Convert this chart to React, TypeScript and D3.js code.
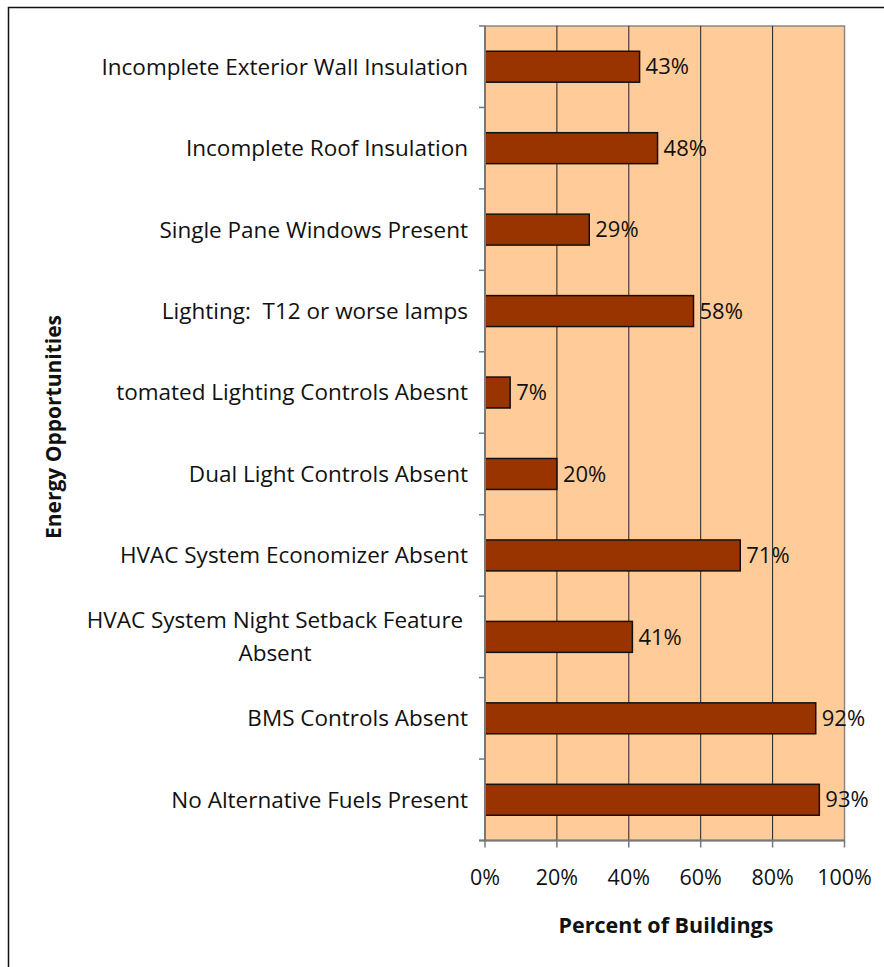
import React, { useEffect, useRef } from "react";
import * as d3 from "d3";

const categories = [
  "Incomplete Exterior Wall Insulation",
  "Incomplete Roof Insulation",
  "Single Pane Windows Present",
  "Lighting:  T12 or worse lamps",
  "tomated Lighting Controls Abesnt",
  "Dual Light Controls Absent",
  "HVAC System Economizer Absent",
  "HVAC System Night Setback Feature|Absent",
  "BMS Controls Absent",
  "No Alternative Fuels Present",
];
const values = [43, 48, 29, 58, 7, 20, 71, 41, 92, 93];
const xTicks = [0, 20, 40, 60, 80, 100];

const FONT = "'Open Sans', sans-serif";

export default function App() {
  const ref = useRef<SVGSVGElement>(null);

  useEffect(() => {
    const svg = d3.select(ref.current);
    svg.selectAll("*").remove();

    const width = 884;
    const height = 967;
    const left = 485, right = 844.5, top = 26, bottom = 840.5;

    svg.append("rect")
      .attr("x", 8.5).attr("y", 7.5)
      .attr("width", 1000).attr("height", 1000)
      .attr("fill", "white")
      .attr("stroke", "#111").attr("stroke-width", 1.5);

    const x = d3.scaleLinear().domain([0, 100]).range([left, right]);
    const y = d3.scaleBand().domain(categories).range([top, bottom]).paddingInner(0.62).paddingOuter(0.31);
    const band = (bottom - top) / categories.length;

    svg.append("rect")
      .attr("x", left).attr("y", top)
      .attr("width", right - left).attr("height", bottom - top)
      .attr("fill", "#FFCC99")
      .attr("stroke", "#888").attr("stroke-width", 1.5);

    svg.append("g").selectAll("line")
      .data(xTicks.slice(1, -1))
      .join("line")
      .attr("x1", d => x(d)).attr("x2", d => x(d))
      .attr("y1", top).attr("y2", bottom)
      .attr("stroke", "#222").attr("stroke-width", 1);

    svg.append("g").selectAll("rect")
      .data(values)
      .join("rect")
      .attr("x", x(0))
      .attr("y", (d, i) => y(categories[i])!)
      .attr("width", d => x(d) - x(0))
      .attr("height", y.bandwidth())
      .attr("fill", "#993300")
      .attr("stroke", "#111").attr("stroke-width", 1.5);

    svg.append("g").selectAll("text")
      .data(values)
      .join("text")
      .attr("x", d => x(d) + 6)
      .attr("y", (d, i) => y(categories[i])! + y.bandwidth() / 2)
      .attr("dy", "0.35em")
      .attr("font-family", FONT).attr("font-size", 22)
      .attr("fill", "#111")
      .text(d => `${d}%`);

    // y axis
    const yAxis = svg.append("g");
    yAxis.append("line")
      .attr("x1", left).attr("x2", left).attr("y1", top).attr("y2", bottom)
      .attr("stroke", "#777").attr("stroke-width", 2);
    yAxis.selectAll(".tick")
      .data(d3.range(categories.length + 1))
      .join("line")
      .attr("x1", left - 6).attr("x2", left)
      .attr("y1", i => top + i * band).attr("y2", i => top + i * band)
      .attr("stroke", "#777").attr("stroke-width", 1.5);

    categories.forEach((c) => {
      const lines = c.split("|");
      const cy = y(c)! + y.bandwidth() / 2;
      const t = svg.append("text")
        .attr("font-family", FONT).attr("font-size", 22.5)
        .attr("fill", "#111")
        .style("white-space", "pre")
        .attr("text-anchor", lines.length > 1 ? "middle" : "end");
      lines.forEach((l, j) => {
        t.append("tspan")
          .attr("x", lines.length > 1 ? 275 : 468)
          .attr("y", cy + (j - (lines.length - 1) / 2) * 33)
          .attr("dy", "0.35em")
          .text(l);
      });
    });

    // x axis
    const xAxis = svg.append("g");
    xAxis.append("line")
      .attr("x1", left - 6).attr("x2", right).attr("y1", bottom).attr("y2", bottom)
      .attr("stroke", "#777").attr("stroke-width", 2);
    xAxis.selectAll("line.t")
      .data(xTicks)
      .join("line")
      .attr("class", "t")
      .attr("x1", d => x(d)).attr("x2", d => x(d))
      .attr("y1", bottom).attr("y2", bottom + 7)
      .attr("stroke", "#777").attr("stroke-width", 1.5);
    xAxis.selectAll("text")
      .data(xTicks)
      .join("text")
      .attr("x", d => x(d))
      .attr("y", 885)
      .attr("text-anchor", "middle")
      .attr("font-family", FONT).attr("font-size", 21.5)
      .attr("fill", "#111")
      .text(d => `${d}%`);

    svg.append("text")
      .attr("x", 666).attr("y", 933)
      .attr("text-anchor", "middle")
      .attr("font-family", FONT).attr("font-size", 21.5).attr("font-weight", "bold")
      .attr("fill", "#111")
      .text("Percent of Buildings");

    svg.append("text")
      .attr("transform", `translate(61, 427) rotate(-90)`)
      .attr("text-anchor", "middle")
      .attr("font-family", FONT).attr("font-size", 21).attr("font-weight", "bold")
      .attr("fill", "#111")
      .text("Energy Opportunities");

    svg.attr("width", width).attr("height", height);
  }, []);

  return (
    <svg ref={ref} style={{ position: "absolute", left: 0, top: 0 }} width={884} height={967} />
  );
}
